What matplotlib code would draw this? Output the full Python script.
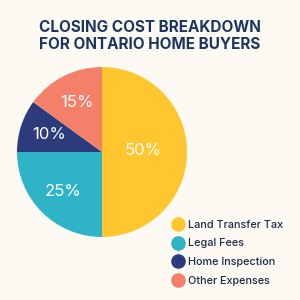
import matplotlib.pyplot as plt
from matplotlib.lines import Line2D

labels = ['Land Transfer Tax', 'Legal Fees', 'Home Inspection', 'Other Expenses']
values = [50, 25, 10, 15]
colors = ['#FFC630', '#2FB3C6', '#2C3B7C', '#F5806A']

bg = '#FDF9F3'
navy = '#1B365D'

fig = plt.figure(figsize=(3, 3), dpi=100, facecolor=bg)
fig.text(0.5, 0.88, 'CLOSING COST BREAKDOWN\nFOR ONTARIO HOME BUYERS',
         ha='center', va='center', fontsize=11, fontweight='bold',
         color=navy, family='Inter', linespacing=1.2)

ax = fig.add_axes([17 / 300, 63 / 300, 170 / 300, 170 / 300])
ax.set_facecolor(bg)
wedges, texts, autotexts = ax.pie(values, colors=colors, startangle=90,
                                  counterclock=False, autopct='%d%%',
                                  pctdistance=0.65,
                                  textprops=dict(color='white', fontsize=12,
                                                 family='Inter'))
autotexts[0].set_position((0.49, 0.02))
ax.set_xlim(-1, 1)
ax.set_ylim(-1, 1)
ax.set_aspect('equal')

handles = [Line2D([], [], marker='o', linestyle='none', markersize=9.5,
                  markerfacecolor=c, markeredgecolor=c) for c in colors]
leg = fig.legend(handles, labels, loc='upper left',
                 bbox_to_anchor=(162 / 300, 1 - 210 / 300), frameon=False,
                 handletextpad=0.3, labelspacing=0.8, handlelength=1.2,
                 prop=dict(family='Inter', size=7.8, weight='medium'))
for t in leg.get_texts():
    t.set_color('#1E2A4A')

fig.savefig('out.png', dpi=100, facecolor=bg)
